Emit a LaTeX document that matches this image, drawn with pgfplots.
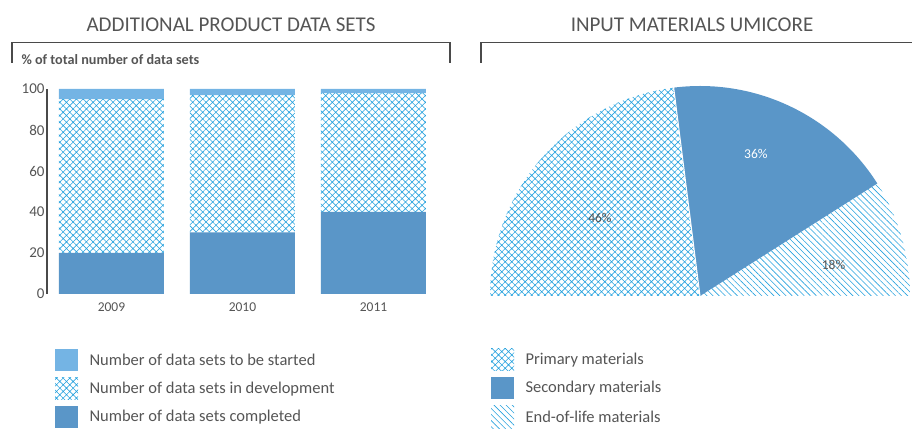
\documentclass[border=0pt]{standalone}
\usepackage{fontspec}
\setmainfont{Carlito}
\usepackage{pgfplots}
\pgfplotsset{compat=1.18}
\usepackage{pgfplotstable}
\usetikzlibrary{patterns.meta}

\definecolor{solidblue}{HTML}{5A96C8}
\definecolor{lightblue}{HTML}{74B4E4}
\definecolor{hatchblue}{HTML}{27A2DE}
\definecolor{txtgrey}{HTML}{555555}
\definecolor{linegrey}{HTML}{4A4A4A}

% share of data sets per year (%)
\pgfplotstableread{
x year completed development started
0 2009 20 75 5
1 2010 30 67 3
2 2011 40 58 2
}\bardata

% input materials (%): primary, secondary, end-of-life
\pgfplotstableread{
share
46
36
18
}\piedata

\tikzset{
  xhatch/.style={pattern={Hatch[angle=45,distance=4.7pt,line width=0.6pt]}, pattern color=hatchblue},
  dhatch/.style={pattern={Lines[angle=-45,distance=4.3pt,line width=0.6pt]}, pattern color=hatchblue},
  legtxt/.style={anchor=west, text=txtgrey, font=\fontsize{16.5}{19}\selectfont},
  title/.style={text=txtgrey, font=\fontsize{21}{25}\selectfont},
}

\begin{document}
\begin{tikzpicture}
\useasboundingbox (0pt,0pt) rectangle (912pt,428pt);

% headings
\node[title] at (231pt,403pt) {ADDITIONAL PRODUCT DATA SETS};
\node[title] at (692pt,403pt) {INPUT MATERIALS UMICORE};
\draw[linegrey, line width=1.1pt] (12pt,365pt) -- (12pt,385.5pt) -- (450pt,385.5pt) -- (450pt,365pt);
\draw[linegrey, line width=1.1pt] (481pt,365pt) -- (481pt,385.5pt) -- (913pt,385.5pt);
\node[anchor=west, text=txtgrey, font=\fontsize{14.2}{17}\selectfont\bfseries] at (18pt,368pt) {\% of total number of data sets};

% stacked bars
\begin{axis}[
  at={(47pt,134pt)}, anchor=south west,
  scale only axis, width=392pt, height=205pt,
  xmin=-0.492, xmax=2.5, ymin=0, ymax=100,
  ybar stacked, bar width=105pt,
  axis y line*=left, axis x line*=bottom,
  x axis line style={draw=none},
  y axis line style={-, linegrey, line width=2pt},
  tick style={draw=none},
  ytick={0,20,...,100},
  xtick={0,1,2}, xticklabels={2009,2010,2011},
  yticklabel style={text=txtgrey, font=\fontsize{15}{17}\selectfont, xshift=1pt},
  xticklabel style={text=txtgrey, font=\fontsize{13.5}{16}\selectfont, yshift=-5pt},
  /pgf/number format/assume math mode=true,
]
\addplot[fill=solidblue, draw=none] table[x=x, y=completed] {\bardata};
\addplot[xhatch, draw=none] table[x=x, y=development] {\bardata};
\addplot[fill=lightblue, draw=none] table[x=x, y=started] {\bardata};
\end{axis}

% half pie
\pgfplotstablegetelem{0}{share}\of\piedata \let\sA\pgfplotsretval
\pgfplotstablegetelem{1}{share}\of\piedata \let\sB\pgfplotsretval
\pgfplotstablegetelem{2}{share}\of\piedata \let\sC\pgfplotsretval
\pgfmathsetmacro\angA{180-1.8*\sA}
\pgfmathsetmacro\angB{\angA-1.8*\sB}
\begin{axis}[
  at={(700pt,132pt)}, anchor=center,
  scale only axis, width=420pt, height=420pt,
  xmin=-1, xmax=1, ymin=-1, ymax=1,
  hide axis, clip=false,
]
\fill[xhatch] (axis cs:0,0) -- ++(180:210pt) arc[start angle=180, end angle=\angA, radius=210pt] -- cycle;
\fill[solidblue] (axis cs:0,0) -- ++(\angA:210pt) arc[start angle=\angA, end angle=\angB, radius=210pt] -- cycle;
\fill[dhatch] (axis cs:0,0) -- ++(\angB:210pt) arc[start angle=\angB, end angle=0, radius=210pt] -- cycle;
\draw[white, line width=1pt] (axis cs:0,0) -- ++(\angA:211pt);
\node[text=txtgrey, font=\fontsize{13.5}{16}\selectfont] at ([shift={(142:127pt)}]axis cs:0,0) {\sA\%};
\node[text=white, font=\fontsize{13.5}{16}\selectfont] at ([shift={(68.6:153pt)}]axis cs:0,0) {\sB\%};
\node[text=txtgrey, font=\fontsize{13.5}{16}\selectfont] at ([shift={(13:137pt)}]axis cs:0,0) {\sC\%};
\end{axis}

% legends
\fill[lightblue] (55pt,57pt) rectangle (78pt,79pt);
\fill[xhatch] (55pt,28pt) rectangle (78pt,50pt);
\fill[solidblue] (55pt,0pt) rectangle (78pt,22pt);
\node[legtxt] at (86pt,68pt) {Number of data sets to be started};
\node[legtxt] at (86pt,39pt) {Number of data sets in development};
\node[legtxt] at (86pt,11pt) {Number of data sets completed};

\fill[xhatch] (491pt,57pt) rectangle (514pt,79pt);
\fill[solidblue] (491pt,29pt) rectangle (514pt,51pt);
\fill[dhatch] (491pt,0pt) rectangle (514pt,22pt);
\node[legtxt] at (522pt,68pt) {Primary materials};
\node[legtxt] at (522pt,40pt) {Secondary materials};
\node[legtxt] at (522pt,11pt) {End-of-life materials};
\end{tikzpicture}
\end{document}
